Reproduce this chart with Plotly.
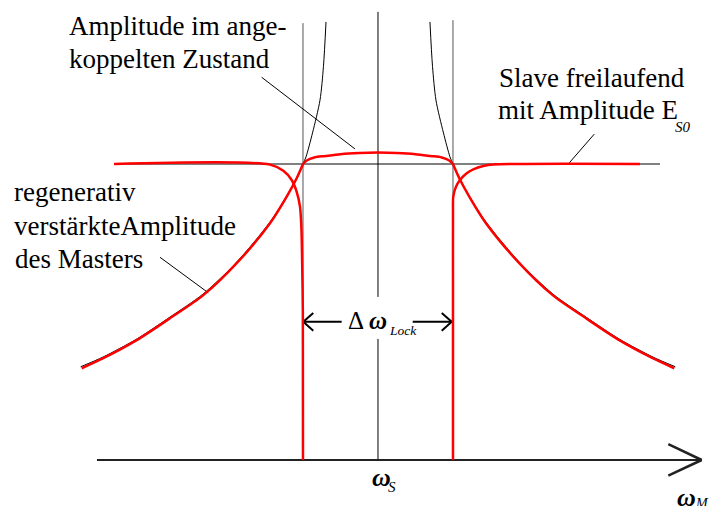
import plotly.graph_objects as go

# Detuning of the master from the free-running slave, in units of the
# locking half-width; amplitudes in units of the free-running slave amplitude E_S0.
LOCK_HALF_WIDTH = 1.0
E_S0 = 1.0

# Regeneratively amplified master amplitude (ideal response), left branch
master_ideal_dw = [-3.965, -3.665, -3.215, -2.773, -2.331, -1.882, -1.44, -1.215,
                   -1.082, -1.0, -0.96, -0.873, -0.773, -0.727, -0.693]
master_ideal_amp = [0.315, 0.348, 0.409, 0.483, 0.561, 0.669, 0.804, 0.893,
                    0.955, 1.0, 1.024, 1.105, 1.216, 1.33, 1.480]

# Regeneratively amplified master amplitude outside the locking range, left branch
master_dw = [-3.951, -3.663, -3.217, -2.773, -2.329, -1.884, -1.44, -1.217, -1.084, -1.0]
master_amp = [0.310, 0.344, 0.405, 0.479, 0.557, 0.665, 0.800, 0.890, 0.952, 1.0]

# Amplitude in the injection-locked state
locked_dw = [-1.0, -0.95, -0.85, -0.7, -0.5, -0.25, 0.0, 0.25, 0.5, 0.7, 0.85, 0.95, 1.0]
locked_amp = [1.0, 1.012, 1.022, 1.027, 1.033, 1.037, 1.0385, 1.037, 1.033, 1.027,
              1.022, 1.012, 1.0]

# Free-running slave amplitude, left and right of the locking range
slave_left_dw = [-3.52, -1.44, -1.262, -1.151, -1.084, -1.04, -1.022, -1.014, -1.002, -1.0]
slave_left_amp = [1.0, 0.998, 0.977, 0.946, 0.906, 0.856, 0.788, 0.709, 0.5, 0.0]
slave_right_dw = [1.0, 1.0, 1.0, 1.004, 1.04, 1.093, 1.183, 1.271, 1.404, 1.537, 3.493]
slave_right_amp = [0.0, 0.6, 0.834, 0.890, 0.923, 0.946, 0.969, 0.982, 0.993, 0.998, 1.0]

RED = "#ff0000"
SERIF = "Liberation Serif"

fig = go.Figure()


def curve(x, y, color, width):
    fig.add_trace(go.Scatter(x=x, y=y, mode="lines",
                             line=dict(color=color, width=width, shape="spline", smoothing=0.8),
                             hoverinfo="skip", showlegend=False))


# thin black ideal master response, both sides
curve(master_ideal_dw, master_ideal_amp, "black", 1)
curve([-v for v in master_ideal_dw], master_ideal_amp, "black", 1)

# red resulting amplitudes
curve(master_dw, master_amp, RED, 2.5)
curve([-v for v in master_dw], master_amp, RED, 2.5)
curve(locked_dw, locked_amp, RED, 2.5)
curve(slave_left_dw, slave_left_amp, RED, 2.5)
curve(slave_right_dw, slave_right_amp, RED, 2.5)

shapes = []


def seg(x0, y0, x1, y1, color="black", width=1):
    shapes.append(dict(type="line", xref="x", yref="y", x0=x0, y0=y0, x1=x1, y1=y1,
                       line=dict(color=color, width=width), layer="below"))


# free-running level E_S0 and the locking-range edges
seg(-3.507, E_S0, 3.76, E_S0, "#808080", 2)
seg(-LOCK_HALF_WIDTH, 0, -LOCK_HALF_WIDTH, 1.476, "#555555", 1)
seg(LOCK_HALF_WIDTH, 0, LOCK_HALF_WIDTH, 1.486, "#555555", 1)
# slave resonance, interrupted behind the lock-range label
seg(0, 0, 0, 0.409, "black", 1)
seg(0, 0.551, 0, 1.514, "black", 1)

# frequency axis with open arrowhead
seg(-3.747, 0, 4.316, 0, "#222222", 2)
seg(3.871, 0.054, 4.316, 0, "#222222", 2.5)
seg(3.871, -0.053, 4.316, 0, "#222222", 2.5)

# locking range arrows
seg(-0.996, 0.467, -0.484, 0.467, "black", 2)
seg(-0.863, 0.497, -0.996, 0.467, "black", 2)
seg(-0.863, 0.437, -0.996, 0.467, "black", 2)
seg(0.463, 0.467, 0.983, 0.467, "black", 2)
seg(0.85, 0.497, 0.983, 0.467, "black", 2)
seg(0.85, 0.437, 0.983, 0.467, "black", 2)

# leader lines of the labels
seg(-1.551, 1.293, -0.307, 1.051)
seg(2.884, 1.101, 2.551, 1.004)
seg(-2.907, 0.685, -2.263, 0.565)

annotations = []


def label(text, x, y, size, xanchor="left"):
    annotations.append(dict(text=text, x=x, y=y, xref="x", yref="y", showarrow=False,
                            xanchor=xanchor, yanchor="middle", borderpad=0,
                            font=dict(family=SERIF, size=size, color="black")))


label("Amplitude im ange-", -4.133, 1.467, 27)
label("koppelten Zustand", -4.133, 1.355, 27)
label("Slave freilaufend", 1.6, 1.292, 27)
label("mit Amplitude E", 1.592, 1.183, 27)
label("<i>S0</i>", 3.95, 1.125, 15)
label("regenerativ", -4.866, 0.904, 27)
label("verstärkteAmplitude", -4.866, 0.791, 27)
label("des Masters", -4.853, 0.679, 27)
label("Δ <b><i>ω</i></b>", -0.413, 0.47, 25)
label("<i>Lock</i>", 0.14, 0.438, 13.5)
label("<b><i>ω</i></b>", -0.09, -0.06, 26)
label("<i>S</i>", 0.12, -0.092, 15)
label("<b><i>ω</i></b>", 3.98, -0.125, 26)
label("<i>M</i>", 4.215, -0.146, 14)

fig.update_layout(
    width=713, height=506, autosize=False,
    margin=dict(l=0, r=0, t=0, b=0, pad=0),
    paper_bgcolor="white", plot_bgcolor="white",
    xaxis=dict(range=[-5.04, 4.467], visible=False, fixedrange=True),
    yaxis=dict(range=[-0.1554, 1.5541], visible=False, fixedrange=True),
    shapes=shapes, annotations=annotations, showlegend=False,
)

fig.write_html("out.html")
